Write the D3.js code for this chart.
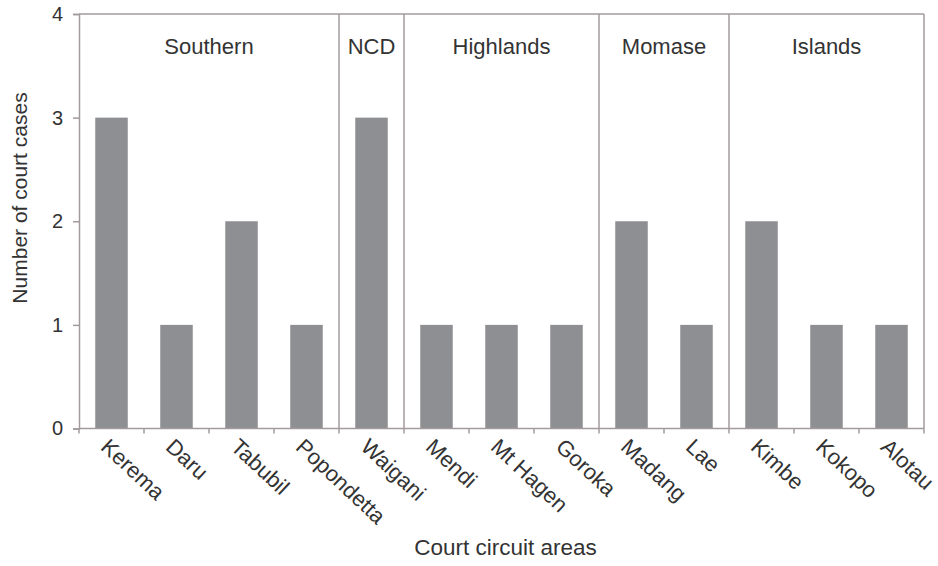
<!DOCTYPE html>
<html>
<head>
<meta charset="utf-8">
<script src="https://cdn.jsdelivr.net/npm/d3@7"></script>
<style>
body { margin: 0; background: #fff; }
text { font-family: "Liberation Sans", Arial, sans-serif; fill: #333; }
</style>
</head>
<body>
<svg id="chart" width="938" height="566"></svg>
<script>
const categories = ["Kerema", "Daru", "Tabubil", "Popondetta", "Waigani", "Mendi", "Mt Hagen", "Goroka", "Madang", "Lae", "Kimbe", "Kokopo", "Alotau"];
const values = [3, 1, 2, 1, 3, 1, 1, 1, 2, 1, 2, 1, 1];
const groups = ["Southern", "NCD", "Highlands", "Momase", "Islands"];
const groupStart = ["Kerema", "Waigani", "Mendi", "Madang", "Kimbe"];
const groupEnd = ["Popondetta", "Waigani", "Goroka", "Lae", "Alotau"];
const yTicks = [0, 1, 2, 3, 4];

const svg = d3.select("#chart");
const margin = { left: 79, right: 14, top: 14, bottom: 138 };
const W = 938, H = 566;
const x0 = margin.left, x1 = W - margin.right, yTop = margin.top, yBot = H - margin.bottom + 0.5;

const x = d3.scaleBand().domain(categories).range([x0, x1]).paddingInner(0.5).paddingOuter(0.25);
const xb = d3.scaleBand().domain(categories).range([x0, x1]);
const y = d3.scaleLinear().domain([0, 4]).range([yBot, yTop]);

const lineColor = "#a39b9b";
const barColor = "#8e8f93";

svg.selectAll("rect.bar").data(categories).enter().append("rect")
  .attr("class", "bar")
  .attr("x", d => x(d))
  .attr("width", x.bandwidth())
  .attr("y", (d, i) => y(values[i]))
  .attr("height", (d, i) => y(0) - y(values[i]))
  .attr("fill", barColor);

svg.append("line").attr("x1", x0).attr("x2", x1).attr("y1", yTop).attr("y2", yTop)
  .attr("stroke", lineColor).attr("stroke-width", 1.5);
svg.append("line").attr("x1", x1).attr("x2", x1).attr("y1", yTop).attr("y2", yBot)
  .attr("stroke", lineColor).attr("stroke-width", 1.5);

groups.forEach((g, i) => {
  const s = xb(groupStart[i]);
  const e = xb(groupEnd[i]) + xb.bandwidth();
  if (i > 0) {
    svg.append("line").attr("x1", s).attr("x2", s).attr("y1", yTop).attr("y2", yBot)
      .attr("stroke", lineColor).attr("stroke-width", 1.5);
  }
  svg.append("text").attr("x", (s + e) / 2).attr("y", 54)
    .attr("text-anchor", "middle").style("font-size", "22px").text(g);
});

const yAxis = svg.append("g").attr("transform", `translate(${x0},0)`)
  .call(d3.axisLeft(y).tickValues(yTicks).tickFormat(d3.format("d")).tickSize(6).tickPadding(10));
yAxis.select(".domain").attr("stroke", lineColor).attr("stroke-width", 1.5);
yAxis.selectAll(".tick line").attr("stroke", lineColor).attr("stroke-width", 1.5);
yAxis.selectAll(".tick text").style("font-size", "20px").style("font-family", "Liberation Sans, Arial, sans-serif").attr("fill", "#333");

const xAxis = svg.append("g").attr("transform", `translate(0,${yBot})`);
xAxis.append("line").attr("x1", x0).attr("x2", x1).attr("y1", 0).attr("y2", 0)
  .attr("stroke", lineColor).attr("stroke-width", 1.5);
const bounds = categories.map(c => xb(c)).concat([x1]);
xAxis.selectAll("line.tk").data(bounds).enter().append("line")
  .attr("x1", d => d).attr("x2", d => d).attr("y1", 0).attr("y2", 5)
  .attr("stroke", lineColor).attr("stroke-width", 1.5);
xAxis.selectAll("text.lbl").data(categories).enter().append("text")
  .attr("transform", d => `translate(${xb(d) + xb.bandwidth() / 2 - 12},${20}) rotate(43)`)
  .attr("text-anchor", "start")
  .style("font-size", "22px")
  .text(d => d);

svg.append("text").attr("x", (x0 + x1) / 2 + 4).attr("y", 555).attr("text-anchor", "middle")
  .style("font-size", "22.5px").text("Court circuit areas");
svg.append("text").attr("transform", `translate(27,198) rotate(-90)`).attr("text-anchor", "middle")
  .style("font-size", "21px").text("Number of court cases");
</script>
</body>
</html>
